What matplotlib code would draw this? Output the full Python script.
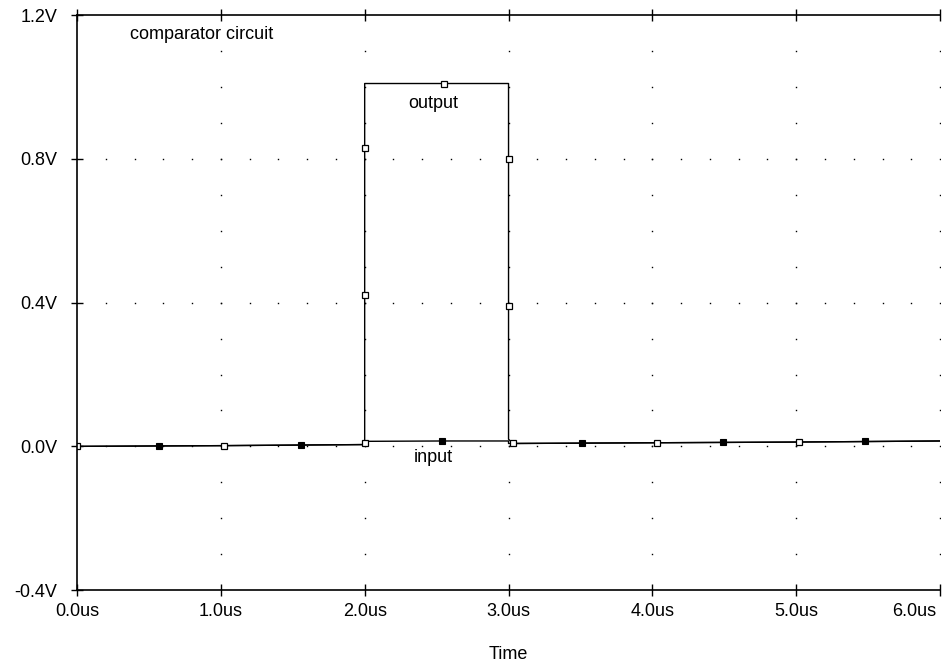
import numpy as np
from matplotlib import pyplot as plt
import matplotlib.transforms as mtransforms

plt.rcParams['font.family'] = ['Liberation Sans', 'DejaVu Sans']

# output trace (comparator output)
out_t = [0.0, 1.0, 1.99, 2.0, 2.0, 2.55, 3.0, 3.0, 3.03, 4.0, 5.0, 6.0]
out_v = [0.0, 0.002, 0.005, 0.01, 1.01, 1.01, 1.01, 0.02, 0.008, 0.01, 0.012, 0.015]
# open-square markers on output
out_mk_t = [0.0, 1.02, 2.0, 2.0, 2.0, 2.55, 3.0, 3.0, 3.03, 4.03, 5.02]
out_mk_v = [0.0, 0.002, 0.01, 0.42, 0.83, 1.01, 0.80, 0.39, 0.008, 0.01, 0.012]

# input trace
in_t = [0.0, 1.0, 2.0, 2.0, 2.55, 3.0, 3.0, 4.0, 5.0, 6.0]
in_v = [0.0, 0.002, 0.005, 0.014, 0.015, 0.015, 0.008, 0.01, 0.012, 0.015]
in_mk_t = [0.57, 1.56, 2.54, 3.51, 4.49, 5.48]
in_mk_v = [0.001, 0.004, 0.015, 0.009, 0.011, 0.014]

xticks = [0.0, 1.0, 2.0, 3.0, 4.0, 5.0, 6.0]
xlabels = ['0.0us', '1.0us', '2.0us', '3.0us', '4.0us', '5.0us', '6.0us']
yticks = [-0.4, 0.0, 0.4, 0.8, 1.2]
ylabels = ['-0.4V', '0.0V', '0.4V', '0.8V', '1.2V']

fig = plt.figure(figsize=(9.42, 6.63), dpi=100)
ax = fig.add_axes([0.0817, 0.110, 0.9163, 0.867])

# dotted grid
for y in yticks[1:-1]:
    gx = np.arange(0.2, 6.0, 0.2)
    ax.plot(gx, np.full_like(gx, y), ls='none', marker='s', ms=1.0, color='k', mew=0)
for x in xticks[1:]:
    gy = np.arange(-0.3, 1.2, 0.1)
    ax.plot(np.full_like(gy, x), gy, ls='none', marker='s', ms=1.0, color='k', mew=0)

ax.plot(in_t, in_v, color='k', lw=1.0)
ax.plot(out_t, out_v, color='k', lw=1.0)
ax.plot(in_mk_t, in_mk_v, ls='none', marker='s', ms=4, mfc='k', mec='k', mew=0.8)
ax.plot(out_mk_t, out_mk_v, ls='none', marker='s', ms=4.5, mfc='white', mec='k', mew=0.9)

ax.text(0.37, 1.147, 'comparator circuit', fontsize=13, va='center', ha='left')
ax.text(2.48, 0.953, 'output', fontsize=13, va='center', ha='center')
ax.text(2.48, -0.031, 'input', fontsize=13, va='center', ha='center')

ax.set_xlim(0, 6.0)
ax.set_ylim(-0.4, 1.2)
ax.set_xticks(xticks)
ax.set_xticklabels(xlabels)
ax.set_yticks(yticks)
ax.set_yticklabels(ylabels)
ax.tick_params(direction='inout', length=8, width=1, labelsize=13, top=True)
ax.tick_params(axis='x', pad=5)
ax.tick_params(axis='y', pad=10)
last = ax.get_xticklabels()[-1]
last.set_ha('right')
last.set_transform(last.get_transform() + mtransforms.ScaledTranslation(-4 / 100, 0, fig.dpi_scale_trans))
ax.spines['right'].set_visible(False)
for s in ['left', 'top', 'bottom']:
    ax.spines[s].set_linewidth(1.2)
ax.set_xlabel('Time', fontsize=13, labelpad=19)

fig.savefig('out.png', dpi=100)
